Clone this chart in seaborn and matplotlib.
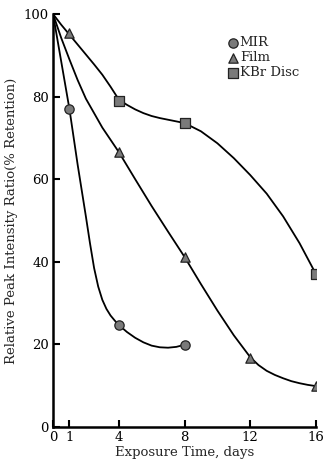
import matplotlib
matplotlib.use("Agg")
import matplotlib.pyplot as plt
import seaborn as sns
import pandas as pd

# measured data points
days_mir = [1, 4, 8]
ret_mir = [77, 24.7, 19.9]
days_film = [1, 4, 8, 12, 16]
ret_film = [95.4, 66.6, 41.2, 16.7, 9.9]
days_kbr = [4, 8, 16]
ret_kbr = [78.9, 73.6, 37.0]

# curve traces
curve_mir_x = [0, 0.5, 1, 1.5, 2, 2.25, 2.5, 2.75, 3, 3.25, 3.5, 3.75, 4, 4.5, 5, 5.5, 6, 6.5, 7, 7.5, 8]
curve_mir_y = [100, 88.5, 77, 63.5, 51, 44.5, 38.5, 34, 30.8, 28.6, 27, 25.8, 24.7, 23, 21.6, 20.5, 19.7, 19.3, 19.2, 19.4, 19.9]
curve_film_x = [0, 0.5, 1, 1.5, 2, 3, 4, 5, 6, 7, 8, 9, 10, 11, 12, 12.5, 13, 13.5, 14, 14.5, 15, 15.5, 16]
curve_film_y = [100, 94.2, 89, 84, 79.5, 72.5, 66.6, 60, 53.5, 47.3, 41.2, 34.6, 28.2, 22.2, 16.9, 15, 13.6, 12.6, 11.8, 11.1, 10.6, 10.2, 9.9]
curve_kbr_x = [0, 0.5, 1, 1.5, 2, 2.5, 3, 3.5, 4, 4.5, 5, 5.5, 6, 6.5, 7, 7.5, 8, 9, 10, 11, 12, 13, 14, 15, 16]
curve_kbr_y = [100, 97.4, 95, 92.6, 90.2, 87.8, 85.3, 82.4, 79.3, 78, 76.9, 76, 75.3, 74.8, 74.4, 74, 73.6, 71.6, 68.7, 65.1, 61, 56.5, 51, 44.5, 37.0]

x_ticks = [0, 1, 4, 8, 12, 16]
y_ticks = [0, 20, 40, 60, 80, 100]

sns.set_theme(style="ticks")
plt.rcParams['font.family'] = ['DejaVu Serif']

fig = plt.figure(figsize=(3.28, 4.72), dpi=100)
ax = fig.add_axes([53/328, 45/472, 263/328, 413/472])

for cx, cy in [(curve_mir_x, curve_mir_y), (curve_film_x, curve_film_y), (curve_kbr_x, curve_kbr_y)]:
    sns.lineplot(x=cx, y=cy, ax=ax, color="black", linewidth=1.3, sort=False)

mk = dict(s=45, color="#7a7a7a", edgecolor="#222222", linewidth=0.9, zorder=5)
sns.scatterplot(x=days_mir, y=ret_mir, ax=ax, marker="o", label="MIR", **mk)
sns.scatterplot(x=days_film, y=ret_film, ax=ax, marker="^", label="Film", **mk)
sns.scatterplot(x=days_kbr, y=ret_kbr, ax=ax, marker="s", label="KBr Disc", **mk)

ax.set_xlim(0, 16)
ax.set_ylim(0, 100)
ax.set_xticks(x_ticks)
ax.set_yticks(y_ticks)
ax.set_xticklabels([str(t) for t in x_ticks])
ax.set_yticklabels([str(t) for t in y_ticks])
ax.tick_params(direction="in", length=5, width=1.5, labelsize=9.5, colors="black", pad=3)
for s in ["top", "right"]:
    ax.spines[s].set_visible(False)
for s in ["left", "bottom"]:
    ax.spines[s].set_linewidth(1.8)
    ax.spines[s].set_color("black")

ax.set_xlabel("Exposure Time, days", fontsize=9.5, labelpad=1)
ax.set_ylabel("Relative Peak Intensity Ratio(% Retention)", fontsize=9.5, labelpad=4)

leg = ax.legend(loc="upper left", bbox_to_anchor=(0.635, 0.962), frameon=False,
                fontsize=9.5, handletextpad=0.0, labelspacing=0.15, borderpad=0,
                handlelength=1.0)

fig.savefig("out.png", dpi=100)
